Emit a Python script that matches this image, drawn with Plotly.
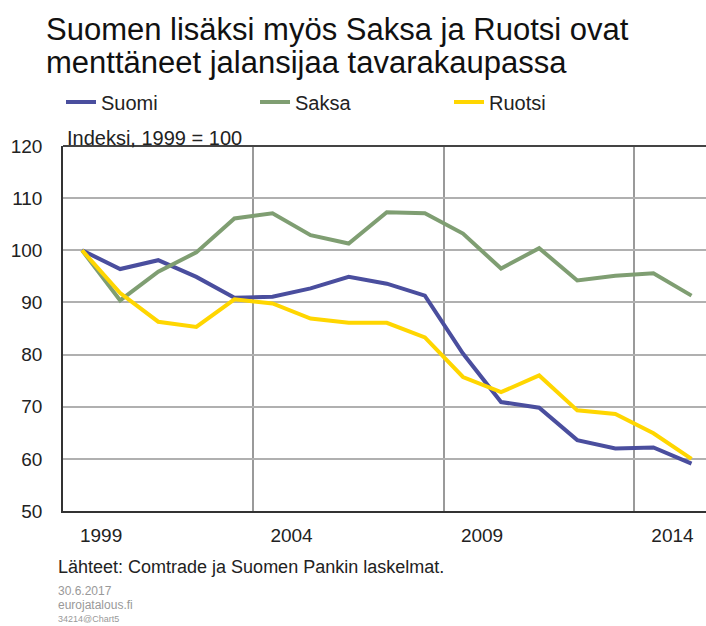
import plotly.graph_objects as go

# Indeksi, 1999 = 100
years = list(range(1999, 2016))
suomi = [100, 96.4, 98.1, 94.9, 90.9, 91.1, 92.7, 94.9, 93.6, 91.3,
         80.2, 70.9, 69.8, 63.6, 62.0, 62.2, 59.1]
saksa = [100, 90.4, 95.9, 99.6, 106.1, 107.1, 102.9, 101.3, 107.3, 107.1,
         103.2, 96.5, 100.4, 94.2, 95.1, 95.6, 91.3]
ruotsi = [100, 91.8, 86.3, 85.3, 90.6, 89.8, 86.9, 86.1, 86.1, 83.3,
          75.7, 72.8, 76.0, 69.3, 68.6, 64.9, 60.0]

label_years = [1999, 2004, 2009, 2014]
y_ticks = [50, 60, 70, 80, 90, 100, 110, 120]

FONT = "Liberation Sans, Arial, sans-serif"
series = [("Suomi", suomi, "#4a4e9e"),
          ("Saksa", saksa, "#7f9e72"),
          ("Ruotsi", ruotsi, "#ffd600")]

fig = go.Figure()
for name, vals, color in series:
    fig.add_trace(go.Scatter(x=years, y=vals, name=name, mode="lines",
                             line=dict(color=color, width=4)))

fig.update_layout(
    width=706, height=626,
    margin=dict(l=63, r=0, t=146, b=115, autoexpand=False),
    plot_bgcolor="white", paper_bgcolor="white",
    font=dict(family=FONT, color="#222"),
    showlegend=True,
    legend=dict(orientation="h", xref="container", yref="container",
                x=61 / 706, xanchor="left", y=1 - 102 / 626, yanchor="middle",
                font=dict(size=20, color="#222"), itemwidth=30,
                entrywidth=149, entrywidthmode="pixels",
                bgcolor="rgba(0,0,0,0)"),
)

fig.update_xaxes(
    range=[1998.5, 2015.38], automargin=False,
    tickvals=[y + 0.5 for y in label_years], ticktext=[str(y) for y in label_years],
    tickfont=dict(size=19, color="#222"),
    showgrid=False, zeroline=False,
    showline=True, linecolor="#333", linewidth=1.5,
    ticks="", ticklabelstandoff=6,
    minor=dict(tickvals=[y - 0.5 for y in label_years[1:]], showgrid=True,
               gridcolor="#9a9a9a", gridwidth=1.5, ticks=""),
)
fig.update_yaxes(
    range=[50, 120], tickvals=y_ticks, automargin=False,
    tickfont=dict(size=19, color="#222"),
    showgrid=True, gridcolor="#b0b0b0", gridwidth=1.5, zeroline=False,
    showline=True, linecolor="#333", linewidth=1.5,
    ticks="", ticklabelstandoff=15,
)

# top border
fig.add_shape(type="line", xref="paper", yref="paper", x0=0, x1=1, y0=1, y1=1,
              line=dict(color="#444", width=2))

title_lines = ["Suomen lisäksi myös Saksa ja Ruotsi ovat",
               "menttäneet jalansijaa tavarakaupassa"]
for line, ypos in zip(title_lines, [1.319, 1.228]):
    fig.add_annotation(text=line, xref="paper", yref="paper", x=-0.03, y=ypos,
                       xanchor="left", yanchor="middle", showarrow=False,
                       font=dict(size=31, color="#111", family=FONT))

fig.add_annotation(text="Indeksi, 1999 = 100", xref="paper", yref="paper",
                   x=0.003, y=1.022, xanchor="left", yanchor="middle", showarrow=False,
                   font=dict(size=20, color="#222"))
fig.add_annotation(text="Lähteet: Comtrade ja Suomen Pankin laskelmat.", xref="paper", yref="paper",
                   x=-0.011, y=-0.153, xanchor="left", yanchor="middle", showarrow=False,
                   font=dict(size=18, color="#222"))
# small grey footer, one block so the lines sit tight together
fig.add_annotation(text="<span style='font-size:12px'>30.6.2017</span><br>"
                        "<span style='font-size:12px'>eurojatalous.fi</span><br>"
                        "<span style='font-size:9px'>34214@Chart5</span>",
                   xref="paper", yref="paper", align="left",
                   x=-0.011, y=-0.256, xanchor="left", yanchor="middle", showarrow=False,
                   font=dict(size=10.5, color="#999"))

fig.write_html("out.html", config={"displayModeBar": False},
               post_script="document.body.style.margin='0';document.body.style.overflow='hidden';")
